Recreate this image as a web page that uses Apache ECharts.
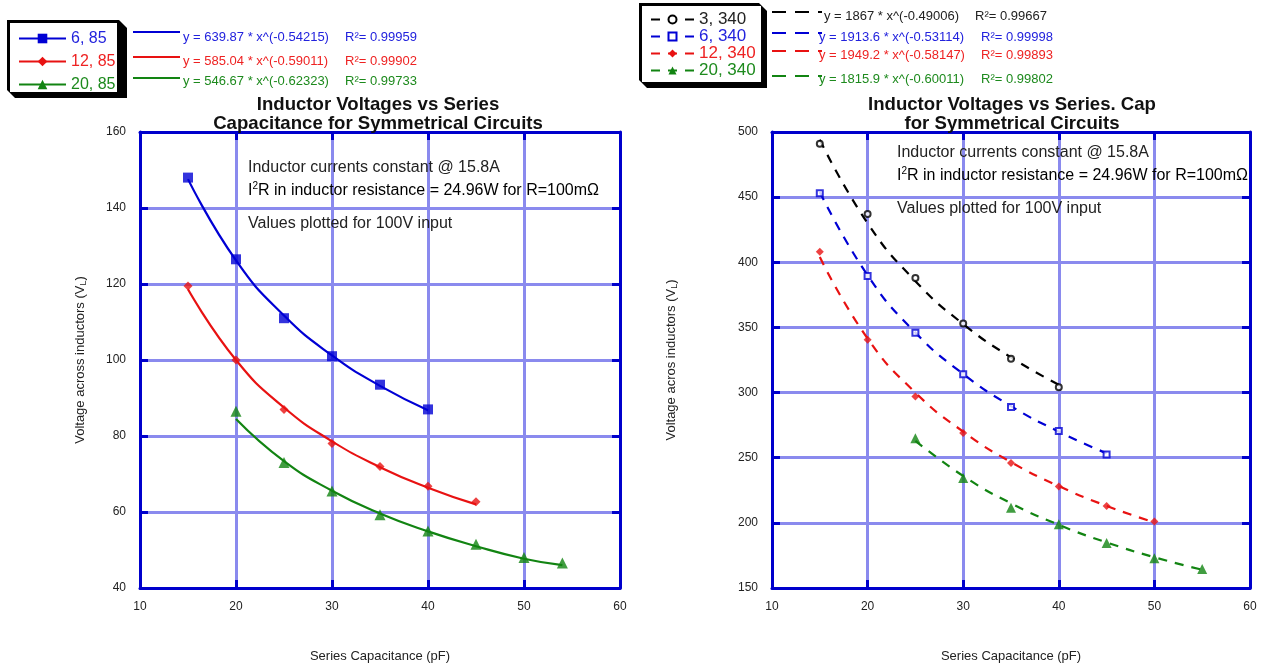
<!DOCTYPE html>
<html>
<head>
<meta charset="utf-8">
<script src="https://cdn.jsdelivr.net/npm/echarts/dist/echarts.min.js"></script>
<style>
html, body { margin: 0; background: #fff; }
#main { width: 1261px; height: 668px; }
</style>
</head>
<body>
<div id="main"></div>
<script>
var xB85 = [15, 20, 25, 30, 35, 40];
var vB85 = [148, 126.5, 111, 101, 93.5, 87];
var fB85 = [147.6, 126.2, 111.7, 101.2, 93.2, 86.8];
var xR85 = [15, 20, 25, 30, 35, 40, 45];
var vR85 = [119.5, 100, 87, 78, 72, 66.8, 62.7];
var fR85 = [118.6, 100, 87.5, 78.6, 71.8, 66.4, 62];
var xG85 = [20, 25, 30, 35, 40, 45, 50, 54];
var vG85 = [86.5, 73, 65.5, 59.3, 55, 51.5, 48, 46.6];
var fG85 = [84.5, 73.4, 65.6, 59.6, 54.9, 51, 47.7, 46];

// right chart: 340 series
var xK340 = [15, 20, 25, 30, 35, 40];
var vK340 = [491, 437, 388, 353, 326, 304];
var fK340 = [494, 430, 385.5, 352.6, 327, 306];
var xB340 = [15, 20, 25, 30, 35, 40, 45];
var vB340 = [453, 389.5, 346, 314, 289, 270.5, 252.5];
var fB340 = [454, 390, 346, 314.3, 289.6, 270, 253.4];
var xR340 = [15, 20, 25, 30, 35, 40, 45, 50];
var vR340 = [408, 340.5, 297, 269, 246, 228, 213, 201];
var fR340 = [404, 341.5, 300, 270, 246.6, 228.2, 213, 200.4];
var xG340 = [25, 30, 35, 40, 45, 50, 55];
var vG340 = [265, 234.5, 211.5, 199, 184.5, 172.8, 164.5];
var fG340 = [263, 236, 215, 198.5, 185, 173.6, 164];

var namesL = ['6, 85', '12, 85', '20, 85'];
var namesR = ['3, 340', '6, 340', '12, 340', '20, 340'];
var eqL = ['y = 639.87 * x^(-0.54215)', 'y = 585.04 * x^(-0.59011)', 'y = 546.67 * x^(-0.62323)'];
var r2L = ['0.99959', '0.99902', '0.99733'];
var eqR = ['y = 1867 * x^(-0.49006)', 'y = 1913.6 * x^(-0.53114)', 'y = 1949.2 * x^(-0.58147)', 'y = 1815.9 * x^(-0.60011)'];
var r2R = ['0.99667', '0.99998', '0.99893', '0.99802'];

var BLUE = '#0000d4', RED = '#e81212', GREEN = '#128412', BLACK = '#000000';
var AXIS = '#0000cc', GRIDC = '#8a8aee';
var FONT = 'Liberation Sans, Arial, sans-serif';

function zip(xs, ys) {
    var out = [];
    for (var i = 0; i < xs.length; i++) out.push([xs[i], ys[i]]);
    return out;
}

var series = [];
function addPair(name, xs, fit, vals, color, sym, size, hollow, gi, dashed) {
    var st = hollow ? {color: '#fff', borderColor: color, borderWidth: 2} : {color: color};
    series.push({
        name: name, type: 'line', xAxisIndex: gi * 2, yAxisIndex: gi * 2,
        data: zip(xs, fit), smooth: true, showSymbol: false,
        symbol: sym, symbolSize: size, itemStyle: st,
        lineStyle: {color: color, width: 2.2, type: dashed ? [9, 8] : 'solid'},
        silent: true, z: 3
    });
    series.push({
        name: name, type: 'scatter', xAxisIndex: gi * 2, yAxisIndex: gi * 2,
        data: zip(xs, vals), symbol: sym, symbolSize: size, itemStyle: st,
        z: 4
    });
}
addPair(namesL[0], xB85, fB85, vB85, BLUE, 'rect', 10, false, 0, false);
addPair(namesL[1], xR85, fR85, vR85, RED, 'diamond', 9, false, 0, false);
addPair(namesL[2], xG85, fG85, vG85, GREEN, 'triangle', 11, false, 0, false);
addPair(namesR[0], xK340, fK340, vK340, BLACK, 'circle', 6, true, 1, true);
addPair(namesR[1], xB340, fB340, vB340, BLUE, 'rect', 6, true, 1, true);
addPair(namesR[2], xR340, fR340, vR340, RED, 'diamond', 8, false, 1, true);
addPair(namesR[3], xG340, fG340, vG340, GREEN, 'triangle', 10, false, 1, true);

function xAx(gi, pos) {
    var main = pos === 'bottom';
    return {
        type: 'value', gridIndex: gi, position: pos, min: 10, max: 60, interval: 10,
        axisLine: {onZero: false, lineStyle: {color: AXIS, width: 3}},
        axisTick: {inside: true, length: 8, lineStyle: {color: AXIS, width: 3}},
        axisLabel: {show: main, color: '#222', fontSize: 12, fontFamily: FONT, margin: 13},
        splitLine: {show: main, lineStyle: {color: GRIDC, width: 3}},
        name: main ? 'Series Capacitance (pF)' : '', nameLocation: 'middle', nameGap: 62,
        nameTextStyle: {color: '#222', fontSize: 13, fontFamily: FONT}
    };
}
function yAx(gi, pos, min, max, interval, name, gap) {
    var main = pos === 'left';
    return {
        type: 'value', gridIndex: gi, position: pos, min: min, max: max, interval: interval,
        axisLine: {onZero: false, lineStyle: {color: AXIS, width: 3}},
        axisTick: {inside: true, length: 8, lineStyle: {color: AXIS, width: 3}},
        axisLabel: {show: main, color: '#222', fontSize: 12, fontFamily: FONT, margin: 14},
        splitLine: {show: main, lineStyle: {color: GRIDC, width: 3}},
        name: main ? '{a|' + name + ' (V}{s|L}{a|)}' : '', nameLocation: 'middle', nameGap: gap,
        nameTextStyle: {
            color: '#222', fontFamily: FONT,
            rich: {a: {fontSize: 13, color: '#222', fontFamily: FONT},
                   s: {fontSize: 9, color: '#222', fontFamily: FONT, verticalAlign: 'bottom', padding: [6, 0, 0, 0]}}
        }
    };
}

function legendData(names, colors) {
    return names.map(function (n, i) { return {name: n, textStyle: {color: colors[i]}}; });
}

// decorations: 3D legend boxes, equation keys, notes
var graphic = [];
function box(pts, rect) {
    graphic.push({type: 'polygon', shape: {points: pts}, style: {fill: '#000'}, z: 1});
    graphic.push({type: 'rect', shape: rect, style: {fill: '#fff'}, z: 2});
}
box([[7, 20], [119, 20], [127, 28], [127, 98], [15, 98], [7, 90]], {x: 10, y: 23, width: 107, height: 69});
box([[639, 3], [759, 3], [767, 11], [767, 88], [647, 88], [639, 80]], {x: 642, y: 6, width: 119, height: 76});

function eqKey(x0, x1, y, color, dashed, tx, ty, txt, rx, r2, tcol) {
    graphic.push({type: 'line', shape: {x1: x0, y1: y, x2: x1, y2: y},
        style: {stroke: color, lineWidth: 2.2, lineDash: dashed ? [14, 9] : null}, z: 5});
    graphic.push({type: 'text', x: tx, y: ty, style: {text: txt, fill: tcol, font: '13px ' + FONT, textVerticalAlign: 'middle'}, z: 5});
    graphic.push({type: 'text', x: rx, y: ty, style: {text: 'R\u00b2= ' + r2, fill: tcol, font: '13px ' + FONT, textVerticalAlign: 'middle'}, z: 5});
}
var colL = [BLUE, RED, GREEN], tcolL = ['#2222dd', '#ee2222', '#1d8a1d'];
var keyYL = [32, 57, 78], txtYL = [37, 61, 81];
for (var i = 0; i < 3; i++) eqKey(133, 180, keyYL[i], colL[i], false, 183, txtYL[i], eqL[i], 345, r2L[i], tcolL[i]);
var colR = [BLACK, BLUE, RED, GREEN], tcolR = ['#222', '#2222dd', '#ee2222', '#1d8a1d'];
var keyYR = [12, 33, 51, 76], txtYR = [16, 37, 55, 79], txtXR = [824, 819, 819, 819], rXR = [975, 981, 981, 981];
for (var j = 0; j < 4; j++) eqKey(772, 822, keyYR[j], colR[j], true, txtXR[j], txtYR[j], eqR[j], rXR[j], r2R[j], tcolR[j]);

function notes(x, y0) {
    var st = {fill: '#222', font: '16px ' + FONT, textVerticalAlign: 'middle'};
    graphic.push({type: 'text', x: x, y: y0, style: Object.assign({text: 'Inductor currents constant @ 15.8A'}, st), z: 5});
    graphic.push({type: 'text', x: x, y: y0 + 23, style: {
        text: '{a|I}{s|2}{a|R in inductor resistance = 24.96W for R=100m\u03a9}',
        textVerticalAlign: 'middle',
        rich: {a: {fontSize: 16, fontFamily: FONT, color: '#222'},
               s: {fontSize: 10, fontFamily: FONT, color: '#222', verticalAlign: 'top', padding: [0, 0, 9, 0]}}
    }, z: 5});
    graphic.push({type: 'text', x: x, y: y0 + 56, style: Object.assign({text: 'Values plotted for 100V input'}, st), z: 5});
}
notes(248, 168);
notes(897, 153);

var option = {
    backgroundColor: '#fff',
    animation: false,
    textStyle: {fontFamily: FONT},
    title: [
        {text: 'Inductor Voltages vs Series\nCapacitance for Symmetrical Circuits', left: 378, top: 95, padding: 0, textAlign: 'center',
         textStyle: {fontSize: 18.6, fontWeight: 'bold', color: '#111', lineHeight: 19, fontFamily: FONT}},
        {text: 'Inductor Voltages vs Series. Cap\nfor Symmetrical Circuits', left: 1012, top: 95, padding: 0, textAlign: 'center',
         textStyle: {fontSize: 18.6, fontWeight: 'bold', color: '#111', lineHeight: 19, fontFamily: FONT}}
    ],
    legend: [
        {data: legendData(namesL, tcolL), orient: 'vertical', left: 18, top: 27, padding: 0,
         itemWidth: 47, itemHeight: 12, itemGap: 0,
         textStyle: {fontSize: 16, lineHeight: 23, fontFamily: FONT}, z: 6, selectedMode: false},
        {data: legendData(namesR, tcolR), orient: 'vertical', left: 650, top: 11, padding: 0,
         itemWidth: 43, itemHeight: 10, itemGap: 0,
         textStyle: {fontSize: 17, lineHeight: 17, fontFamily: FONT}, z: 6, selectedMode: false}
    ],
    grid: [
        {left: 140, top: 132, width: 480, height: 456},
        {left: 772, top: 132, width: 478, height: 456}
    ],
    xAxis: [xAx(0, 'bottom'), xAx(0, 'top'), xAx(1, 'bottom'), xAx(1, 'top')],
    yAxis: [
        yAx(0, 'left', 40, 160, 20, 'Voltage across inductors', 52),
        yAx(0, 'right', 40, 160, 20, '', 0),
        yAx(1, 'left', 150, 500, 50, 'Voltage acros inductors', 93),
        yAx(1, 'right', 150, 500, 50, '', 0)
    ],
    graphic: graphic,
    series: series
};

var chart = echarts.init(document.getElementById('main'));
chart.setOption(option);
</script>
</body>
</html>
